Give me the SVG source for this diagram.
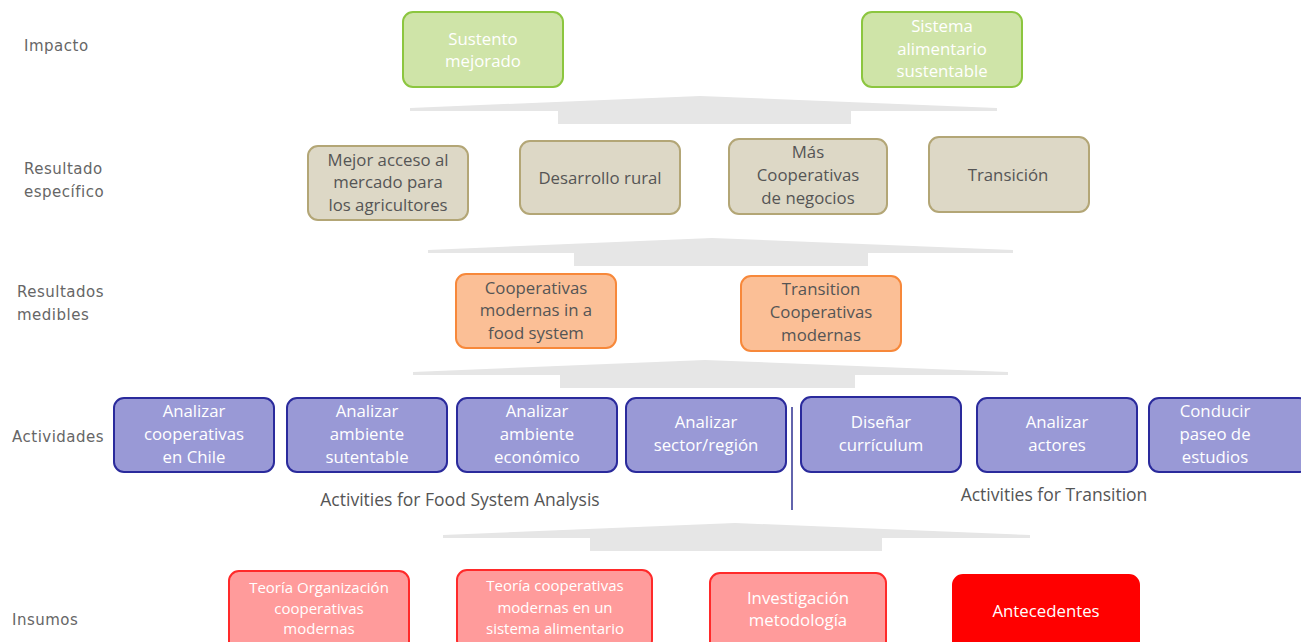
<svg xmlns="http://www.w3.org/2000/svg" width="1301" height="642" viewBox="0 0 1301 642">
<style>
.lbl{font-family:"DejaVu Sans",sans-serif;font-size:15px;fill:#666;letter-spacing:0.5px}
.t{font-family:"Open Sans","Liberation Sans",sans-serif;font-size:16.8px;text-anchor:middle}
.ts{font-family:"Open Sans","Liberation Sans",sans-serif;font-size:15px;text-anchor:middle}
.grn rect{fill:#cfe4a8;stroke:#8cc63f;stroke-width:2}
.grn text{fill:#fff}
.tan rect{fill:#ddd8c6;stroke:#b3a676;stroke-width:2}
.tan text{fill:#555}
.org rect{fill:#fbbf96;stroke:#f7883a;stroke-width:2}
.org text{fill:#555}
.pur rect{fill:#9999d6;stroke:#2a2a9c;stroke-width:2}
.pur text{fill:#fff}
.red rect{fill:#ff9b9b;stroke:#ff2a2a;stroke-width:2}
.red text{fill:#fff}
.ant rect{fill:#ff0000;stroke:#ff0000;stroke-width:2}
.ant text{fill:#fff}
.arr{fill:#e6e6e6}
.cap{font-family:"Open Sans","Liberation Sans",sans-serif;font-size:17.5px;fill:#555;text-anchor:middle}
</style>
<rect width="1301" height="642" fill="#fff"/>
<g id="labels">
<text class="lbl" x="24" y="51">Impacto</text>
<text class="lbl" x="24" y="174">Resultado</text>
<text class="lbl" x="24" y="197">específico</text>
<text class="lbl" x="17" y="297">Resultados</text>
<text class="lbl" x="17" y="320">medibles</text>
<text class="lbl" x="12" y="442">Actividades</text>
<text class="lbl" x="12" y="625">Insumos</text>
</g>
<g id="connectors">
<path class="arr" d="M410,108 L700,96 L997,108 L997,111 L851,111 L851,124 L558,124 L558,111 L410,111 Z"/>
<path class="arr" d="M428,250 L712,238 L1013,250 L1013,253 L868,253 L868,266 L574,266 L574,253 L428,253 Z"/>
<path class="arr" d="M413,372 L705,360 L1008,372 L1008,375 L855,375 L855,388 L560,388 L560,375 L413,375 Z"/>
<path class="arr" d="M443,535 L735,523 L1030,535 L1030,538 L882,538 L882,551 L590,551 L590,538 L443,538 Z"/>
<line x1="792" y1="407" x2="792" y2="510" stroke="#2e3192" stroke-width="1.5"/>
</g>
<g id="n-sustento" class="grn"><rect x="403" y="12" width="160" height="75" rx="10"/><text class="t" x="483" y="45">Sustento</text><text class="t" x="483" y="67">mejorado</text></g>
<g id="n-sistema" class="grn"><rect x="862" y="12" width="160" height="75" rx="10"/><text class="t" x="942" y="32">Sistema</text><text class="t" x="942" y="55">alimentario</text><text class="t" x="942" y="77">sustentable</text></g>
<g id="n-mejor" class="tan"><rect x="308" y="146" width="160" height="74" rx="10"/><text class="t" x="388" y="166">Mejor acceso al</text><text class="t" x="388" y="188">mercado para</text><text class="t" x="388" y="211">los agricultores</text></g>
<g id="n-desarrollo" class="tan"><rect x="520" y="141" width="160" height="73" rx="10"/><text class="t" x="600" y="184">Desarrollo rural</text></g>
<g id="n-mas" class="tan"><rect x="729" y="139" width="158" height="75" rx="10"/><text class="t" x="808" y="158">Más</text><text class="t" x="808" y="181">Cooperativas</text><text class="t" x="808" y="204">de negocios</text></g>
<g id="n-transicion" class="tan"><rect x="929" y="137" width="160" height="75" rx="10"/><text class="t" x="1008" y="181">Transición</text></g>
<g id="n-coopmod" class="org"><rect x="456" y="274" width="160" height="74" rx="10"/><text class="t" x="536" y="294">Cooperativas</text><text class="t" x="536" y="316">modernas in a</text><text class="t" x="536" y="339">food system</text></g>
<g id="n-transcoop" class="org"><rect x="741" y="276" width="160" height="75" rx="10"/><text class="t" x="821" y="295">Transition</text><text class="t" x="821" y="318">Cooperativas</text><text class="t" x="821" y="341">modernas</text></g>
<g id="n-a1" class="pur"><rect x="114" y="398" width="160" height="74" rx="10"/><text class="t" x="194" y="417">Analizar</text><text class="t" x="194" y="440">cooperativas</text><text class="t" x="194" y="463">en Chile</text></g>
<g id="n-a2" class="pur"><rect x="287" y="398" width="160" height="74" rx="10"/><text class="t" x="367" y="417">Analizar</text><text class="t" x="367" y="440">ambiente</text><text class="t" x="367" y="463">sutentable</text></g>
<g id="n-a3" class="pur"><rect x="457" y="398" width="160" height="74" rx="10"/><text class="t" x="537" y="417">Analizar</text><text class="t" x="537" y="440">ambiente</text><text class="t" x="537" y="463">económico</text></g>
<g id="n-a4" class="pur"><rect x="626" y="398" width="160" height="74" rx="10"/><text class="t" x="706" y="428">Analizar</text><text class="t" x="706" y="451">sector/región</text></g>
<g id="n-a5" class="pur"><rect x="801" y="397" width="160" height="75" rx="10"/><text class="t" x="881" y="428">Diseñar</text><text class="t" x="881" y="451">currículum</text></g>
<g id="n-a6" class="pur"><rect x="977" y="398" width="160" height="74" rx="10"/><text class="t" x="1057" y="428">Analizar</text><text class="t" x="1057" y="451">actores</text></g>
<g id="n-a7" class="pur"><rect x="1149" y="398" width="160" height="74" rx="10"/><text class="t" x="1215" y="417">Conducir</text><text class="t" x="1215" y="440">paseo de</text><text class="t" x="1215" y="463">estudios</text></g>
<g id="captions">
<text class="cap" x="460" y="506">Activities for Food System Analysis</text>
<text class="cap" x="1054" y="501">Activities for Transition</text>
</g>
<g id="n-i1" class="red"><rect x="229" y="571" width="180" height="80" rx="10"/><text class="ts" x="319" y="593">Teoría Organización</text><text class="ts" x="319" y="614">cooperativas</text><text class="ts" x="319" y="634">modernas</text></g>
<g id="n-i2" class="red"><rect x="457" y="570" width="195" height="80" rx="10"/><text class="ts" x="555" y="591">Teoría cooperativas</text><text class="ts" x="555" y="613">modernas en un</text><text class="ts" x="555" y="634">sistema alimentario</text></g>
<g id="n-i3" class="red"><rect x="710" y="573" width="176" height="80" rx="10"/><text class="t" x="798" y="604">Investigación</text><text class="t" x="798" y="626">metodología</text></g>
<g id="n-i4" class="ant"><rect x="953" y="575" width="186" height="80" rx="10"/><text class="t" x="1046" y="617">Antecedentes</text></g>
</svg>
